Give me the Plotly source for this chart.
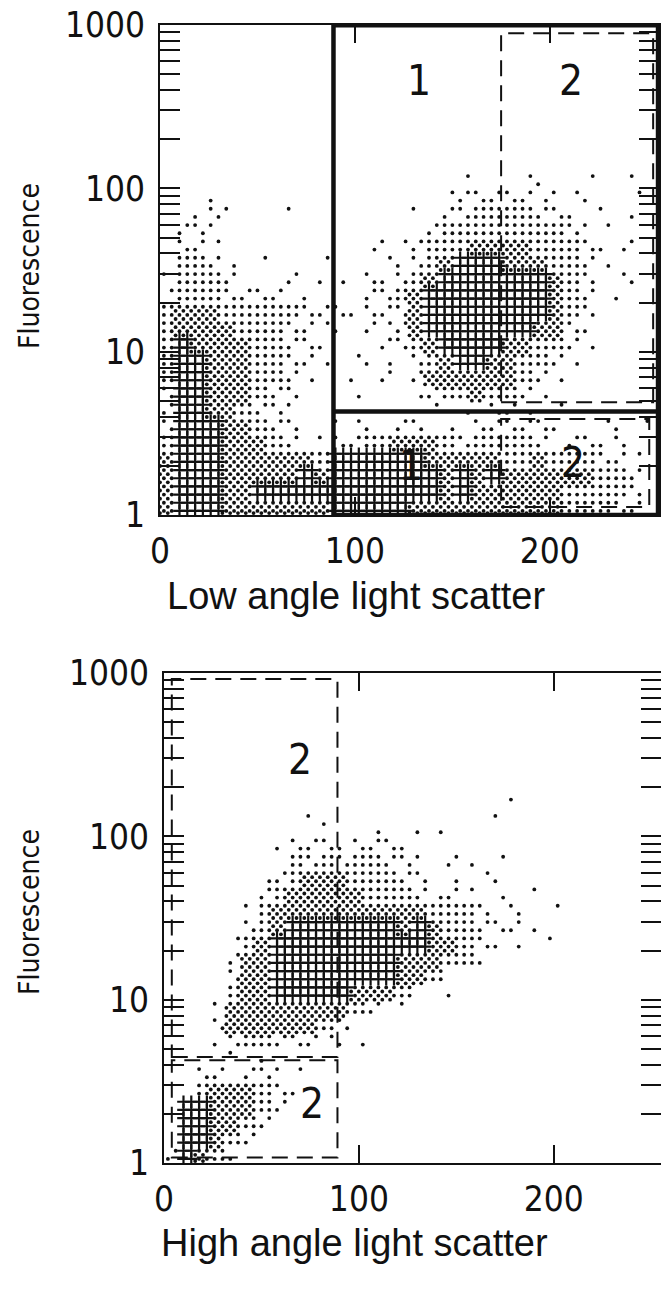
import numpy as np
import plotly.graph_objects as go

# ---------------- data ----------------
# Density of events in bins of 8 channels (x) by 0.1 decade (y).
# Rows are listed from the top (log10 F = 2.9..3.0) down to the bottom (0.0..0.1).
# ' ' none, '.' one event, ':' few, 'o' many, '#' dense, '+' densest
top_rows = [
    "        |        |        |        ",
    "        |        |        |        ",
    "        |        |        |        ",
    "        |        |        |        ",
    "        |        |        |        ",
    "        |        |        |        ",
    "        |        |        |        ",
    "        |        |        |        ",
    "        |        |        |        ",
    "        |        |   .   .|.  .  . ",
    "   .    |        |  .:::::|....  . ",
    "  .:.   |.       |. ::oooo|::. . . ",
    " ::.    |        | :oooooo|oo:..   ",
    " ::.    |     ...|:ooo####|ooo:... ",
    " oo:. . |  .   ..|:o#+++##|#oo:.   ",
    ".ooo:   |: .. :.:|o#++++++|+#o: .. ",
    ".ooo::::| .   ::o|#+++++++|+#o: .  ",
    "o###oooo|o:::.:::|#+++++++|+#o:    ",
    "o####ooo|::.. :.:|#+++++++|##:.    ",
    "o+####oo|::.   ::|o#++++##|oo:.    ",
    "o++###oo|::. ... |:o#++##o|o:.     ",
    "o++###oo|:.  . : |:######o|:.      ",
    ":++###o:|:   .   |.:oo#oo:|.       ",
    ":++##o::|.       | . . ::.| .      ",
    ":+++##o:|:  ... :|: . ::::|:.  .. .",
    "o+++###o|: .::oo#|##o:oooo|: ::.:  ",
    "#+++####|##o+++++|+#####oo|#ooo::. ",
    "#+++####|#+#+++++|++#+#+##|####oo: ",
    "#+++##++|++++++++|++#+####|##oooo: ",
    "#+++####|###+++++|########|##ooo:: ",
]

bottom_rows = [
    "        |        |        |        ",
    "        |        |        |        ",
    "        |        |        |        ",
    "        |        |        |        ",
    "        |        |        |        ",
    "        |        |        |        ",
    "        |        |        |        ",
    "        |        |      . |        ",
    "        | .      |     .  |        ",
    "        |  .  .  |..      |        ",
    "       .|:::.:::.|        |        ",
    "        |o:o:oo::|. :. .  |        ",
    "      .:|o###ooo:|: . ..  |        ",
    "      :o|#####ooo|:.:. . .|        ",
    "     .o#|########|#ooo: : | .      ",
    "     :o#|+++++++#|+#oo:::.|        ",
    "    .o#+|++++++++|+##o:.. |.       ",
    "    :##+|+++++++#|##oo.   |        ",
    "    :##+|+++++++#|#o      |        ",
    "    o##+|++++###o|  .     |        ",
    "   .####|####o: .|        |        ",
    "   :####|##o:    |        |        ",
    "   .:oo:|::...   |        |        ",
    "    . . |        |        |        ",
    "  :: ::.|.       |        |        ",
    "  o###o:|.       |        |        ",
    " ++###o:|        |        |        ",
    " ++##o: |        |        |        ",
    " ++#o:  |        |        |        ",
    ":+#o.   |        |        |        ",
]

BIN_W = 8      # channels per bin
BIN_H = 0.1    # decades per bin

# gates (channel, fluorescence)
top_gate1 = dict(x0=89, x1=255.5, y0=1.0, y1=995, ysplit=4.3)
top_gate2_upper = dict(x0=175, x1=253, y0=4.9, y1=890)
top_gate2_lower = dict(x0=175, x1=251, y0=1.12, y1=3.87)
bot_gate2_upper = dict(x0=4, x1=89, y0=4.45, y1=920)
bot_gate2_lower = dict(x0=4, x1=89, y0=1.08, y1=4.25)

top_labels = [("1", 133, 460), ("2", 211, 460), ("1", 129, 2.0), ("2", 212, 2.1)]
bot_labels = [("2", 70, 294), ("2", 76, 2.33)]

x_ticks = [0, 100, 200]
y_ticks = [1, 2, 3, 4, 5, 6, 7, 8, 9, 10, 20, 30, 40, 50, 60, 70, 80, 90,
           100, 200, 300, 400, 500, 600, 700, 800, 900, 1000]
y_ticktext = ["1" if v == 1 else "10" if v == 10 else "100" if v == 100
              else "1000" if v == 1000 else "" for v in y_ticks]

# ---------------- rendering ----------------
W, H = 661, 1290
INK = "#111111"
COND = "DejaVu Sans Condensed, DejaVu Sans, sans-serif"
REG = "Liberation Sans, Arial, sans-serif"

SUBS = [(0, 0), (1, 0), (0, 1), (1, 1)]


def expand(rows):
    dx, dy, cx, cy = [], [], [], []
    n = len(rows)
    for i, row in enumerate(rows):
        r = n - 1 - i
        row = row.replace("|", "").ljust(32)[:32]
        for c, ch in enumerate(row):
            if ch == " ":
                continue
            if ch == ".":
                pick = [SUBS[(r * 3 + c * 5) % 4]]
            elif ch == ":":
                pick = [SUBS[0], SUBS[3]] if (r + c) % 2 == 0 else [SUBS[1], SUBS[2]]
            else:
                pick = SUBS
            for (a, b) in pick:
                x = BIN_W * (c + 0.25 + 0.5 * a)
                ly = BIN_H * (r + 0.25 + 0.5 * b)
                if ch == "+":
                    cx.append(x); cy.append(10 ** ly)
                else:
                    dx.append(x); dy.append(10 ** ly)
            if ch == "#":
                for (a, b) in SUBS:
                    x = BIN_W * (c + 0.5 * a)
                    ly = BIN_H * (r + 0.5 * b)
                    if ly <= 0.002:
                        ly = 0.012
                    dx.append(x); dy.append(10 ** ly)
    return dx, dy, cx, cy


fig = go.Figure()

for rows, xa, ya in [(top_rows, "x", "y"), (bottom_rows, "x2", "y2")]:
    dx, dy, cx, cy = expand(rows)
    fig.add_trace(go.Scatter(x=dx, y=dy, mode="markers", xaxis=xa, yaxis=ya,
                             marker=dict(symbol="circle", size=3.8, color=INK,
                                         line=dict(width=0)),
                             hoverinfo="skip", showlegend=False))
    fig.add_trace(go.Scatter(x=cx, y=cy, mode="markers", xaxis=xa, yaxis=ya,
                             marker=dict(symbol="cross-thin", size=9,
                                         line=dict(width=2.2, color=INK)),
                             hoverinfo="skip", showlegend=False))

L = np.log10
shapes = []


def rect(g, xr, yr, width, dash):
    shapes.append(dict(type="rect", xref=xr, yref=yr, x0=g["x0"], x1=g["x1"],
                       y0=g["y0"], y1=g["y1"],
                       line=dict(color=INK, width=width, dash=dash)))


rect(top_gate1, "x", "y", 4.5, "solid")
shapes.append(dict(type="line", xref="x", yref="y", x0=top_gate1["x0"], x1=top_gate1["x1"],
                   y0=top_gate1["ysplit"], y1=top_gate1["ysplit"],
                   line=dict(color=INK, width=4.5)))
rect(top_gate2_upper, "x", "y", 2, "16px,9px")
rect(top_gate2_lower, "x", "y", 2, "16px,9px")
rect(bot_gate2_upper, "x2", "y2", 2, "16px,9px")
rect(bot_gate2_lower, "x2", "y2", 2, "16px,9px")

annotations = []
for t, x, y in top_labels:
    annotations.append(dict(text=t, x=x, y=L(y), xref="x", yref="y", showarrow=False,
                            font=dict(family=COND, size=42, color=INK)))
for t, x, y in bot_labels:
    annotations.append(dict(text=t, x=x, y=L(y), xref="x2", yref="y2", showarrow=False,
                            font=dict(family=COND, size=42, color=INK)))

# axis titles
ttl = dict(xref="paper", yref="paper", showarrow=False, xanchor="center", yanchor="middle")
annotations += [
    dict(text="Low angle light scatter", x=356 / W, y=1 - 596 / H,
         font=dict(family=REG, size=38, color=INK), **ttl),
    dict(text="High angle light scatter", x=354 / W, y=1 - 1243 / H,
         font=dict(family=REG, size=38, color=INK), **ttl),
    dict(text="Fluorescence", x=29 / W, y=1 - 266 / H, textangle=-90,
         font=dict(family=COND, size=28, color=INK), **ttl),
    dict(text="Fluorescence", x=29 / W, y=1 - 912 / H, textangle=-90,
         font=dict(family=COND, size=28, color=INK), **ttl),
]

common_x = dict(tickvals=x_ticks, ticks="inside", ticklen=18, tickwidth=2, tickcolor=INK,
                showline=True, linewidth=2, linecolor=INK, mirror="ticks",
                showgrid=False, zeroline=False, ticklabelstandoff=4, automargin=False,
                tickfont=dict(family=COND, size=35, color=INK))
common_y = dict(type="log", range=[0, 3], tickvals=y_ticks, ticktext=y_ticktext,
                ticks="inside", ticklen=20, tickwidth=2, tickcolor=INK,
                showline=True, linewidth=2, linecolor=INK, mirror="ticks",
                showgrid=False, zeroline=False, ticklabelstandoff=6, automargin=False,
                tickfont=dict(family=COND, size=35, color=INK))

fig.update_layout(
    width=W, height=H, margin=dict(l=0, r=0, t=0, b=0, autoexpand=False),
    paper_bgcolor="white", plot_bgcolor="white", showlegend=False,
    xaxis=dict(domain=[160 / W, 659 / W], range=[0, 256], anchor="y", **common_x),
    yaxis=dict(domain=[1 - 515 / H, 1 - 25 / H], anchor="x", **common_y),
    xaxis2=dict(domain=[164 / W, 1.0], range=[0, 255], anchor="y2", **common_x),
    yaxis2=dict(domain=[1 - 1163 / H, 1 - 673 / H], anchor="x2", **common_y),
    shapes=shapes, annotations=annotations,
)

fig.write_html("out.html")
